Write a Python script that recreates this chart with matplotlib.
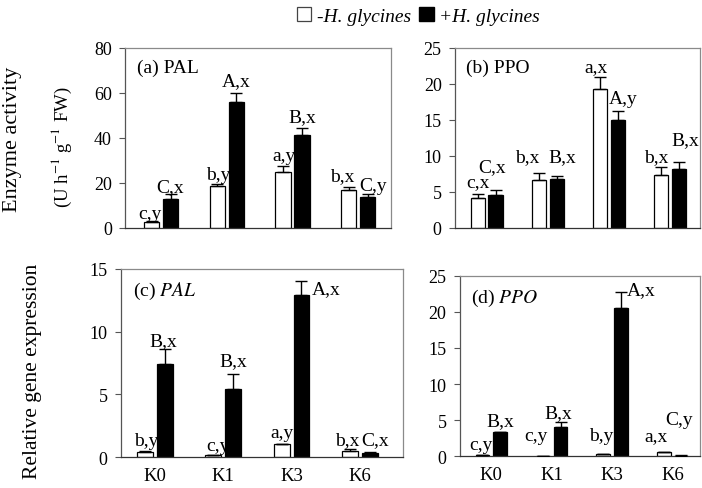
import numpy as np
import matplotlib.pyplot as plt
from matplotlib.patches import Patch

plt.rcParams['font.family'] = ['Liberation Serif', 'DejaVu Serif']
plt.rcParams['mathtext.fontset'] = 'stix'

groups = ['K0', 'K1', 'K3', 'K6']

# (a) PAL enzyme activity
pal_act_ctrl = [2.6, 18.4, 24.7, 17.0]
pal_act_ctrl_err = [0.6, 1.0, 2.7, 1.0]
pal_act_inf = [12.9, 56.0, 41.5, 13.8]
pal_act_inf_err = [2.0, 4.0, 2.9, 1.1]
pal_act_lab_ctrl = ['c,y', 'b,y', 'a,y', 'b,x']
pal_act_lab_inf = ['C,x', 'A,x', 'B,x', 'C,y']

# (b) PPO enzyme activity
ppo_act_ctrl = [4.15, 6.7, 19.3, 7.3]
ppo_act_ctrl_err = [0.55, 0.9, 1.7, 1.15]
ppo_act_inf = [4.5, 6.85, 15.0, 8.2]
ppo_act_inf_err = [0.7, 0.4, 1.3, 1.0]
ppo_act_lab_ctrl = ['c,x', 'b,x', 'a,x', 'b,x']
ppo_act_lab_inf = ['C,x', 'B,x', 'A,y', 'B,x']

# (c) PAL relative expression
pal_gene_ctrl = [0.42, 0.15, 1.03, 0.48]
pal_gene_ctrl_err = [0.06, 0.04, 0.0, 0.18]
pal_gene_inf = [7.45, 5.45, 12.9, 0.36]
pal_gene_inf_err = [1.15, 1.15, 1.1, 0.03]
pal_gene_lab_ctrl = ['b,y', 'c,y', 'a,y', 'b,x']
pal_gene_lab_inf = ['B,x', 'B,x', 'A,x', 'C,x']

# (d) PPO relative expression
ppo_gene_ctrl = [0.1, 0.05, 0.32, 0.55]
ppo_gene_ctrl_err = [0.02, 0.02, 0.03, 0.05]
ppo_gene_inf = [3.3, 4.0, 20.5, 0.08]
ppo_gene_inf_err = [0.1, 0.8, 2.3, 0.02]
ppo_gene_lab_ctrl = ['c,y', 'c,y', 'b,y', 'a,x']
ppo_gene_lab_inf = ['B,x', 'B,x', 'A,x', 'C,y']

fig = plt.figure(figsize=(7.02, 4.89), dpi=100)

# label offsets in pixels (dx, dy[, ha]) - hand placed like the original
off_a = ([(-2, 3), (1, 5), (1, 6), (-6, 7)], [(-1, 3), (0, 8), (0, 7), (5, 4)])
off_b = ([(0, 8), (-12, 12), (-4, 6), (-5, 6)], [(-3, 19), (6, 15), (5, 8), (6, 18)])
off_c = ([(1, 6), (5, 5), (0, 7), (-3, 5)], [(-2, 4), (0, 9), (10, -12, 'left'), (5, 8)])
off_d = ([(-2, 6), (-7, 16), (-2, 14), (-8, 12)], [(0, 7), (-2, 4), (6, -2, 'left'), (-2, 31)])


def panel(rect, ctrl, ctrl_err, inf, inf_err, lab_c, lab_i, offs, ylim, step,
          title, xlim, show_x):
    ax = fig.add_axes(rect)
    x = np.arange(len(groups))
    w = 0.23
    d = 0.145
    ax.bar(x - d, ctrl, w, color='white', edgecolor='black', linewidth=0.9, zorder=2)
    ax.bar(x + d, inf, w, color='black', edgecolor='black', linewidth=0.9, zorder=2)
    ax.errorbar(x - d, ctrl, yerr=[np.zeros(4), ctrl_err], fmt='none',
                ecolor='black', elinewidth=1, capsize=4, capthick=1, zorder=3)
    ax.errorbar(x + d, inf, yerr=[np.zeros(4), inf_err], fmt='none',
                ecolor='black', elinewidth=1, capsize=4, capthick=1, zorder=3)
    for vals, errs, labs, oo, sh in [(ctrl, ctrl_err, lab_c, offs[0], -d),
                                     (inf, inf_err, lab_i, offs[1], d)]:
        for i in range(4):
            o = oo[i]
            ha = o[2] if len(o) > 2 else 'center'
            ax.annotate(labs[i], (x[i] + sh, vals[i] + errs[i]),
                        xytext=(o[0], o[1]), textcoords='offset pixels',
                        ha=ha, va='baseline', fontsize=14)
    ax.set_ylim(0, ylim)
    ax.set_yticks(np.arange(0, ylim + 0.1, step))
    ax.set_xlim(*xlim)
    if show_x:
        ax.set_xticks(x)
        ax.set_xticklabels(groups)
    else:
        ax.set_xticks([])
    ax.tick_params(axis='y', direction='out', length=4.5, pad=5, labelsize=13,
                   color='#555555')
    ax.tick_params(axis='x', length=0, labelsize=13.5, pad=7)
    for s in ax.spines.values():
        s.set_color('#8a8a8a')
        s.set_linewidth(0.9)
    ax.spines['left'].set_color('#555555')
    ax.spines['bottom'].set_color('#333333')
    ax.text(0.045, 0.94, title, transform=ax.transAxes, fontsize=14, va='top')
    return ax


panel([0.178, 0.532, 0.379, 0.368], pal_act_ctrl, pal_act_ctrl_err, pal_act_inf,
      pal_act_inf_err, pal_act_lab_ctrl, pal_act_lab_inf, off_a, 80, 20,
      '(a) PAL', (-0.55, 3.5), False)
panel([0.648, 0.532, 0.349, 0.368], ppo_act_ctrl, ppo_act_ctrl_err, ppo_act_inf,
      ppo_act_inf_err, ppo_act_lab_ctrl, ppo_act_lab_inf, off_b, 25, 5,
      '(b) PPO', (-0.52, 3.49), False)
panel([0.172, 0.063, 0.402, 0.385], pal_gene_ctrl, pal_gene_ctrl_err, pal_gene_inf,
      pal_gene_inf_err, pal_gene_lab_ctrl, pal_gene_lab_inf, off_c, 15, 5,
      r'(c) $\mathit{PAL}$', (-0.5, 3.63), True)
panel([0.655, 0.065, 0.342, 0.369], ppo_gene_ctrl, ppo_gene_ctrl_err, ppo_gene_inf,
      ppo_gene_inf_err, ppo_gene_lab_ctrl, ppo_gene_lab_inf, off_d, 25, 5,
      r'(d) $\mathit{PPO}$', (-0.52, 3.45), True)

fig.text(0.018, 0.716, 'Enzyme activity', rotation=90, fontsize=16,
         ha='center', va='center')
fig.text(0.088, 0.698, r'(U h$^{\mathrm{-1}}$ g$^{\mathrm{-1}}$ FW)', rotation=90,
         fontsize=13.5, ha='center', va='center')
fig.text(0.047, 0.24, 'Relative gene expression', rotation=90, fontsize=15.5,
         ha='center', va='center')

handles = [Patch(facecolor='white', edgecolor='#444444', linewidth=0.9),
           Patch(facecolor='black', edgecolor='black')]
fig.legend(handles, ['-H. glycines', '+H. glycines'], loc='upper center',
           bbox_to_anchor=(0.596, 1.02), ncol=2, frameon=False,
           prop={'style': 'italic', 'size': 14}, handlelength=0.75,
           handleheight=0.75, handletextpad=0.3, columnspacing=0.4)

fig.savefig('out.png', dpi=100)
